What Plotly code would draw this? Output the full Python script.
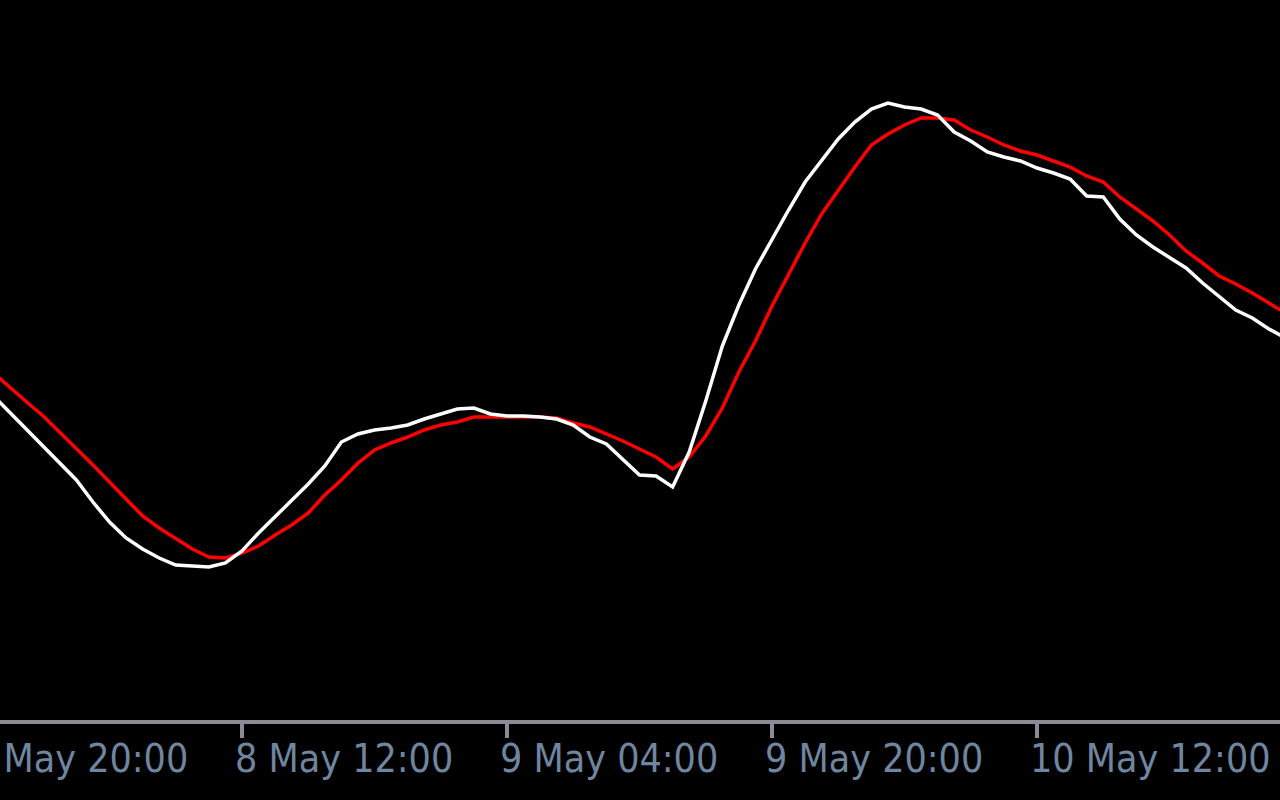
import pandas as pd
import plotly.graph_objects as go

# hourly timestamps (7 May 21:00 -> 11 May 03:00)
times = pd.date_range("2023-05-07 21:00", periods=79, freq="h")

# fast moving average (white)
fast_ma = [
    324, 307, 290, 273, 256, 240, 218, 198, 182, 171,
    162, 155, 154, 153, 157, 169, 187, 203, 220, 236,
    254, 278, 286, 290, 292, 295, 301, 306, 311, 312,
    306, 304, 304, 303, 301, 295, 283, 276, 260, 245,
    244, 233, 268, 319, 374, 415, 451, 481, 510, 538,
    560, 581, 598, 611, 617, 613, 611, 605, 588, 579,
    568, 563, 559, 552, 547, 541, 524, 523, 501, 485,
    473, 463, 452, 437, 423, 410, 402, 391, 382,
]

# slow moving average (red)
slow_ma = [
    347, 332, 318, 304, 288, 272, 255, 238, 221, 204,
    192, 182, 171, 163, 162, 167, 174, 185, 195, 207,
    225, 240, 257, 270, 277, 283, 290, 295, 298, 303,
    303, 303, 303, 303, 302, 297, 293, 286, 279, 271,
    263, 251, 263, 284, 312, 348, 379, 414, 445, 477,
    506, 530, 553, 575, 586, 595, 602, 602, 600, 590,
    583, 575, 569, 565, 559, 553, 544, 538, 523, 511,
    499, 485, 469, 457, 444, 436, 427, 417, 407,
]

tick_times = ["2023-05-07 20:00", "2023-05-08 12:00", "2023-05-09 04:00",
              "2023-05-09 20:00", "2023-05-10 12:00"]
tick_labels = ["7 May 20:00", "8 May 12:00", "9 May 04:00",
               "9 May 20:00", "10 May 12:00"]

x_range = ["2023-05-07 21:23:19", "2023-05-11 02:40:19"]
y_range = [0, 720]

AXIS = "#8b8b95"
TEXT = "#7086a0"

fig = go.Figure()
fig.add_trace(go.Scatter(x=times, y=slow_ma, mode="lines",
                         line=dict(color="#ff0000", width=3.5), hoverinfo="skip"))
fig.add_trace(go.Scatter(x=times, y=fast_ma, mode="lines",
                         line=dict(color="#ffffff", width=3.5), hoverinfo="skip"))

t0 = pd.Timestamp(x_range[0])
t1 = pd.Timestamp(x_range[1])
span = (t1 - t0).total_seconds()
for t, lab in zip(tick_times, tick_labels):
    frac = (pd.Timestamp(t) - t0).total_seconds() / span
    fig.add_annotation(x=frac, xref="paper", y=0, yref="paper",
                       text=lab, showarrow=False, xanchor="left", yanchor="top",
                       xshift=-9, yshift=-14,
                       font=dict(family="DejaVu Sans Condensed, Liberation Sans, sans-serif",
                                 size=39, color=TEXT))

fig.update_layout(
    width=1280, height=800,
    margin=dict(l=0, r=0, t=0, b=80),
    paper_bgcolor="#000000", plot_bgcolor="#000000",
    showlegend=False,
)
fig.update_xaxes(range=x_range, showgrid=False, zeroline=False,
                 showline=True, linecolor=AXIS, linewidth=3.5,
                 ticks="outside", ticklen=14, tickwidth=4, tickcolor=AXIS,
                 tickvals=tick_times, showticklabels=False)
fig.update_yaxes(range=y_range, visible=False, showgrid=False, zeroline=False)

fig.write_html("out.html",
               config={"displayModeBar": False},
               post_script="document.body.style.margin='0';"
                           "document.body.style.background='#000';"
                           "document.body.style.overflow='hidden';")
